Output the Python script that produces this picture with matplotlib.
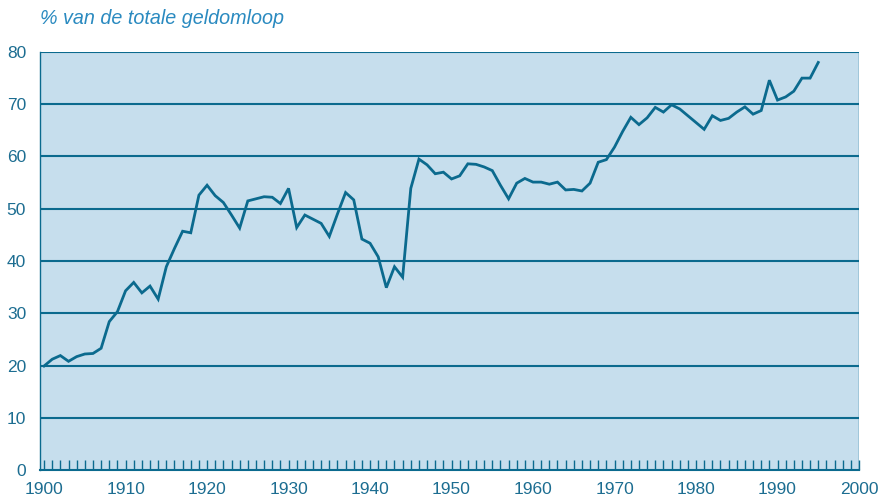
import matplotlib
matplotlib.use("Agg")
import matplotlib.pyplot as plt
import numpy as np

years = list(range(1900, 1996))
values = [
    19.9, 21.2, 21.9, 20.8, 21.7, 22.2, 22.3, 23.3, 28.4, 30.3,   # 1900-1909
    34.3, 35.9, 33.9, 35.2, 32.7, 38.9, 42.4, 45.7, 45.4, 52.6,   # 1910-1919
    54.5, 52.5, 51.2, 48.8, 46.3, 51.5, 51.9, 52.3, 52.2, 51.0,   # 1920-1929
    53.9, 46.4, 48.8, 48.0, 47.2, 44.7, 49.0, 53.1, 51.7, 44.2,   # 1930-1939
    43.4, 40.8, 34.9, 38.9, 36.9, 53.9, 59.5, 58.4, 56.7, 57.0,   # 1940-1949
    55.7, 56.3, 58.6, 58.5, 58.0, 57.3, 54.5, 51.9, 54.9, 55.8,   # 1950-1959
    55.1, 55.1, 54.7, 55.1, 53.6, 53.7, 53.4, 54.9, 58.9, 59.4,   # 1960-1969
    61.8, 64.8, 67.5, 66.1, 67.4, 69.4, 68.5, 69.9, 69.1, 67.8,   # 1970-1979
    66.5, 65.2, 67.8, 66.9, 67.3, 68.5, 69.5, 68.1, 68.8, 74.6,   # 1980-1989
    70.8, 71.4, 72.5, 75.0, 75.0, 78.0,                           # 1990-1995
]
y_ticks = [0, 10, 20, 30, 40, 50, 60, 70, 80]
x_ticks = [1900, 1910, 1920, 1930, 1940, 1950, 1960, 1970, 1980, 1990, 2000]
title = "% van de totale geldomloop"

line_col = "#0b6a8e"
text_col = "#1c6d91"
title_col = "#2a8ac0"
bg_col = "#c6deed"

plt.rcParams['font.family'] = ['Liberation Sans', 'DejaVu Sans']

fig = plt.figure(figsize=(8.81, 5.03), dpi=100)
ax = fig.add_axes([40/881, 1-470/503, (859-40)/881, (470-52)/503])
ax.set_facecolor(bg_col)

for yv in y_ticks[1:]:
    ax.axhline(yv, color=line_col, lw=1.5, zorder=1)

ax.plot(years, values, color=line_col, lw=2.0, zorder=3, solid_joinstyle='miter')

ax.set_xlim(1899.5, 2000)
ax.set_ylim(0, 80)

ax.set_xticks(x_ticks)
ax.set_xticks(list(range(1900, 2001)), minor=True)
ax.set_yticks(y_ticks)
ax.tick_params(axis='x', which='both', direction='in', length=7, width=1.0,
               color=line_col, labelcolor=text_col, labelsize=12.5, pad=9)
ax.tick_params(axis='y', which='both', length=0, labelcolor=text_col,
               labelsize=12.5, pad=10)

for s in ['top', 'right']:
    ax.spines[s].set_visible(False)
ax.spines['left'].set_color(line_col)
ax.spines['left'].set_linewidth(1.0)
ax.spines['bottom'].set_color(line_col)
ax.spines['bottom'].set_linewidth(1.5)
ax.axvline(2000, color=line_col, lw=1.0, zorder=1)

fig.text(40/881, 1-18/503, title, color=title_col, fontsize=14.2,
         fontstyle='italic', ha='left', va='center')

fig.savefig("out.png", dpi=100)
